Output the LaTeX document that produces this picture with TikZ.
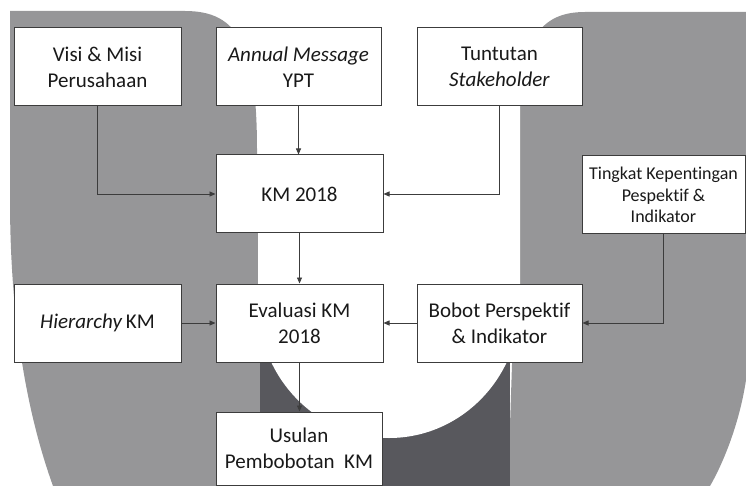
\documentclass[tikz,border=0pt]{standalone}
\usepackage{fontspec}
\setmainfont[Ligatures=NoCommon]{Carlito}
\usetikzlibrary{arrows.meta}
\definecolor{lightbg}{RGB}{150,150,152}
\definecolor{darkbg}{RGB}{88,88,93}
\definecolor{linec}{RGB}{60,60,60}
\definecolor{txt}{RGB}{25,25,25}
\tikzset{
  box/.style={draw=linec, line width=1pt, fill=white, inner sep=0pt, align=center,
    minimum width=167pt, minimum height=78pt, text=txt,
    font=\fontsize{21}{26}\selectfont},
  smallbox/.style={box, font=\fontsize{18}{21.5}\selectfont},
  arr/.style={draw=linec, line width=0.8pt, -{Triangle[length=6pt,width=5pt]}}
}
\begin{document}
\begin{tikzpicture}[x=1pt,y=-1pt]
\useasboundingbox (0,0) rectangle (746,486);
% background logo
\fill[lightbg] (10,11) -- (185,11) .. controls (238,11) and (257,45) .. (257,150)
  -- (262,486) -- (53,486) .. controls (22,400) and (10,300) .. (10,200) -- cycle;
\fill[lightbg] (746,12) -- (746,380) .. controls (740,420) and (725,460) .. (710,486)
  -- (508,486) -- (516,243) -- (520,120) .. controls (520,40) and (540,12) .. (585,12) -- cycle;
\fill[darkbg] (260,300) rectangle (510,486);
\fill[white] (258,0) -- (258,303) arc[start angle=180, end angle=0, x radius=131, y radius=135] -- (520,0) -- cycle;
% nodes
\node[box] (visi) at (97.5,67) {Visi \& Misi\\Perusahaan};
\node[box, minimum width=165pt] (annual) at (298.5,67) {\textit{Annual Message}\\YPT};
\node[box, minimum width=165pt] (tuntutan) at (499.5,67) {Tuntutan\\\textit{Stakeholder}};
\node[box] (km) at (299.5,194) {KM 2018};
\node[smallbox, minimum width=163pt] (tingkat) at (663.5,195) {Tingkat Kepentingan\\Pespektif \&\\Indikator};
\node[box] (hier) at (97.5,323) {\textit{Hierarchy}\,KM};
\node[box] (eval) at (299.5,323) {Evaluasi KM\\2018};
\node[box, minimum width=165pt] (bobot) at (499.5,323) {Bobot Perspektif\\\& Indikator};
\node[box, minimum width=166pt, minimum height=73pt] (usulan) at (299,448.5) {Usulan\\Pembobotan\ \ KM};
% connectors
\draw[arr] (annual.south) -- (annual.south |- km.north);
\draw[arr] (visi.south) |- (km.west);
\draw[arr] (tuntutan.south) |- (km.east);
\draw[arr] (km.south) -- (km.south |- eval.north);
\draw[arr] (hier.east) -- (eval.west);
\draw[arr] (bobot.west) -- (eval.east);
\draw[arr] (tingkat.south) |- (bobot.east);
\draw[arr] (eval.south) -- (eval.south |- usulan.north);
\end{tikzpicture}
\end{document}
